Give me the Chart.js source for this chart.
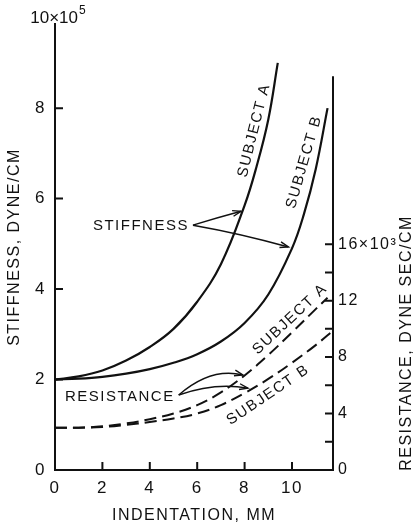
<!DOCTYPE html>
<html>
<head>
<meta charset="utf-8">
<script src="https://cdn.jsdelivr.net/npm/chart.js@4.4.1/dist/chart.umd.min.js"></script>
<style>
html, body { margin: 0; padding: 0; background: #fff; }
</style>
</head>
<body>
<canvas id="chart" width="414" height="528"></canvas>
<script>
// stiffness curves (x10^5 dyne/cm) vs indentation (mm)
const indentStiffA = [0, 1, 2, 3, 4, 5, 6, 7, 8, 8.5, 9, 9.4];
const stiffA = [2.0, 2.07, 2.2, 2.42, 2.72, 3.12, 3.72, 4.55, 5.85, 6.7, 7.75, 9.0];
const indentStiffB = [0, 1, 2, 3, 4, 5, 6, 7, 8, 9, 10, 10.5, 11, 11.5];
const stiffB = [2.0, 2.02, 2.06, 2.13, 2.23, 2.37, 2.56, 2.84, 3.25, 3.88, 4.9, 5.65, 6.65, 8.0];

// resistance curves (x10^3 dyne sec/cm)
const indentResA = [0, 1, 2, 3, 4, 5, 6, 7, 8, 9, 10, 11, 11.5];
const resA = [3.0, 3.0, 3.1, 3.3, 3.6, 4.0, 4.6, 5.5, 6.7, 8.15, 9.75, 11.4, 12.2];
const indentResB = [0, 1, 2, 3, 4, 5, 6, 7, 8, 9, 10, 11, 11.75];
const resB = [3.0, 3.0, 3.05, 3.2, 3.4, 3.65, 4.0, 4.6, 5.45, 6.45, 7.6, 8.85, 9.9];

// ticks
const xTicks = [0, 2, 4, 6, 8, 10];
const stiffTicks = [0, 2, 4, 6, 8];
const resTicks = [0, 2, 4, 6, 8, 10, 12, 14, 16];
const resTickLabels = ['0', '', '4', '', '8', '', '12', '', '16×10³'];

const ink = '#111';
const family = '"Liberation Sans", Arial, sans-serif';

const pts = (xs, ys) => xs.map((x, i) => ({ x: x, y: ys[i] }));

function arrow(ctx, x0, y0, cx, cy, x1, y1) {
  ctx.beginPath();
  ctx.moveTo(x0, y0);
  ctx.quadraticCurveTo(cx, cy, x1, y1);
  ctx.stroke();
  const a = Math.atan2(y1 - cy, x1 - cx);
  const L = 9, w = 0.33;
  ctx.beginPath();
  ctx.moveTo(x1 - L * Math.cos(a - w), y1 - L * Math.sin(a - w));
  ctx.lineTo(x1, y1);
  ctx.lineTo(x1 - L * Math.cos(a + w), y1 - L * Math.sin(a + w));
  ctx.stroke();
}

// labels that sit along the curves
const curveLabels = [
  { text: 'SUBJECT A', x: 8.4, y: 7.51, axis: 'y', angle: -76 },
  { text: 'SUBJECT B', x: 10.51, y: 6.81, axis: 'y', angle: -74 },
  { text: 'SUBJECT A', x: 9.92, y: 10.69, axis: 'y2', angle: -43 },
  { text: 'SUBJECT B', x: 8.99, y: 5.31, axis: 'y2', angle: -34 }
];

const extras = {
  id: 'extras',
  beforeDraw(chart) {
    chart.ctx.letterSpacing = '1.5px';
  },
  afterDraw(chart) {
    const ctx = chart.ctx;
    const sx = chart.scales.x, sy = chart.scales.y, sr = chart.scales.y2;
    const area = chart.chartArea;
    ctx.save();
    ctx.strokeStyle = ink;
    ctx.fillStyle = ink;
    ctx.lineWidth = 2;

    // inward tick marks
    ctx.beginPath();
    xTicks.slice(1).forEach(v => {
      const px = sx.getPixelForValue(v);
      ctx.moveTo(px, area.bottom); ctx.lineTo(px, area.bottom - 8);
    });
    stiffTicks.slice(1).forEach(v => {
      const py = sy.getPixelForValue(v);
      ctx.moveTo(area.left, py); ctx.lineTo(area.left + 8, py);
    });
    resTicks.slice(1).forEach(v => {
      const py = sr.getPixelForValue(v);
      ctx.moveTo(area.right, py); ctx.lineTo(area.right - 8, py);
    });
    ctx.stroke();

    // right axis line (shorter than the left one)
    ctx.beginPath();
    ctx.moveTo(area.right, sr.getPixelForValue(0) + 1);
    ctx.lineTo(area.right, sr.getPixelForValue(27.9));
    ctx.stroke();

    // 10x10^5 on top of the left axis
    ctx.letterSpacing = '0px';
    ctx.font = '17px ' + family;
    ctx.textAlign = 'right';
    ctx.textBaseline = 'alphabetic';
    ctx.fillText('10×10', area.left + 23, 23);
    ctx.font = '12px ' + family;
    ctx.textAlign = 'left';
    ctx.fillText('5', area.left + 24, 14);

    // right axis title, reading upwards
    ctx.letterSpacing = '1.5px';
    ctx.font = '16px ' + family;
    ctx.save();
    ctx.translate(407, 343);
    ctx.rotate(-Math.PI / 2);
    ctx.textAlign = 'center';
    ctx.textBaseline = 'middle';
    ctx.fillText('RESISTANCE, DYNE SEC/CM', 0, 0);
    ctx.restore();

    // curve labels
    ctx.font = '15px ' + family;
    curveLabels.forEach(l => {
      const yScale = chart.scales[l.axis];
      ctx.save();
      ctx.translate(sx.getPixelForValue(l.x), yScale.getPixelForValue(l.y));
      ctx.rotate(l.angle * Math.PI / 180);
      ctx.textAlign = 'center';
      ctx.textBaseline = 'middle';
      ctx.fillText(l.text, 0, 0);
      ctx.restore();
    });

    // STIFFNESS with two arrows
    ctx.textAlign = 'left';
    ctx.textBaseline = 'middle';
    const stX = sx.getPixelForValue(1.6), stY = sy.getPixelForValue(5.39);
    ctx.fillText('STIFFNESS', stX, stY);
    const stEnd = stX + ctx.measureText('STIFFNESS').width + 4;
    ctx.lineWidth = 1.4;
    const tA = [sx.getPixelForValue(7.85), sy.getPixelForValue(5.72)];
    const tB = [sx.getPixelForValue(9.85), sy.getPixelForValue(4.93)];
    arrow(ctx, stEnd, stY - 1, (stEnd + tA[0]) / 2, (stY + tA[1]) / 2 - 1, tA[0], tA[1]);
    arrow(ctx, stEnd, stY - 1, (stEnd + tB[0]) / 2, (stY + tB[1]) / 2 - 3, tB[0], tB[1]);

    // RESISTANCE with two curved arrows
    const rsX = sx.getPixelForValue(0.42), rsY = sr.getPixelForValue(5.17);
    ctx.fillText('RESISTANCE', rsX, rsY);
    const rsEnd = rsX + ctx.measureText('RESISTANCE').width + 4;
    const rA = [sx.getPixelForValue(7.93), sr.getPixelForValue(6.73)];
    const rB = [sx.getPixelForValue(8.14), sr.getPixelForValue(5.8)];
    arrow(ctx, rsEnd, rsY - 2, rsEnd + 32, rA[1] - 8, rA[0], rA[1]);
    arrow(ctx, rsEnd, rsY - 2, rsEnd + 36, rB[1] - 6, rB[0], rB[1]);
    ctx.restore();
  }
};

const solid = { borderColor: ink, borderWidth: 2.2, pointRadius: 0, tension: 0.4, fill: false };
const dashed = { borderColor: ink, borderWidth: 2, borderDash: [12, 6], pointRadius: 0, tension: 0.4, fill: false };

new Chart(document.getElementById('chart'), {
  type: 'line',
  data: {
    datasets: [
      Object.assign({ label: 'Stiffness A', data: pts(indentStiffA, stiffA), yAxisID: 'y' }, solid),
      Object.assign({ label: 'Stiffness B', data: pts(indentStiffB, stiffB), yAxisID: 'y' }, solid),
      Object.assign({ label: 'Resistance A', data: pts(indentResA, resA), yAxisID: 'y2' }, dashed),
      Object.assign({ label: 'Resistance B', data: pts(indentResB, resB), yAxisID: 'y2' }, dashed)
    ]
  },
  options: {
    responsive: false,
    animation: false,
    layout: { padding: { top: 24, right: 0, bottom: 0, left: 0 } },
    plugins: { legend: { display: false }, tooltip: { enabled: false } },
    scales: {
      x: {
        type: 'linear', min: 0, max: 11.73,
        grid: { display: false, drawTicks: false },
        border: { color: ink, width: 2 },
        afterBuildTicks: s => { s.ticks = xTicks.map(v => ({ value: v })); },
        afterFit: s => { s.height = 58; },
        ticks: { color: ink, font: { family: family, size: 17 }, padding: 8, maxRotation: 0, autoSkip: false },
        title: { display: true, text: 'INDENTATION, MM', color: ink, font: { family: family, size: 16 }, padding: { top: 0, bottom: 3 } }
      },
      y: {
        position: 'left', min: 0, max: 9.86,
        grid: { display: false, drawTicks: false },
        border: { color: ink, width: 2 },
        afterBuildTicks: s => { s.ticks = stiffTicks.map(v => ({ value: v })); },
        afterFit: s => { s.width = 55; },
        ticks: { color: ink, font: { family: family, size: 17 }, padding: 9, autoSkip: false },
        title: { display: true, text: 'STIFFNESS, DYNE/CM', color: ink, font: { family: family, size: 16 }, padding: { top: 5, bottom: 0 } }
      },
      y2: {
        position: 'right', min: 0, max: 31.6,
        grid: { display: false, drawTicks: false },
        border: { display: false },
        afterBuildTicks: s => { s.ticks = resTicks.map(v => ({ value: v })); },
        afterFit: s => { s.width = 81; },
        ticks: {
          color: ink, font: { family: family, size: 16 }, padding: 5, autoSkip: false,
          callback: (v) => resTickLabels[resTicks.indexOf(v)] || ''
        }
      }
    }
  },
  plugins: [extras]
});
</script>
</body>
</html>
